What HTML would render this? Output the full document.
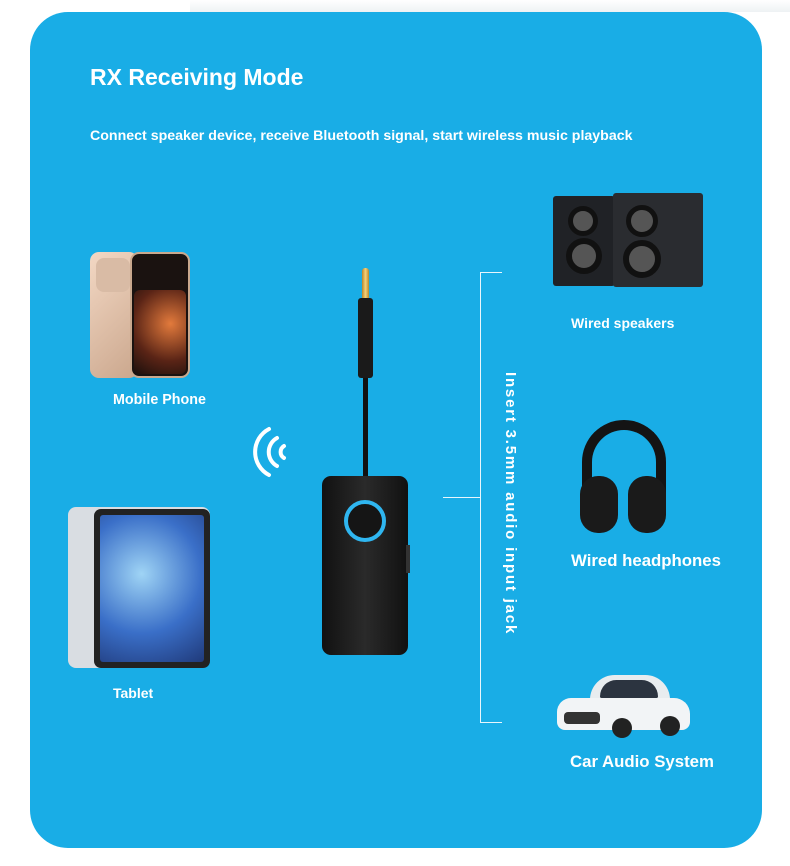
<!DOCTYPE html>
<html><head><meta charset="utf-8"><style>
*{margin:0;padding:0;box-sizing:border-box}
body{width:790px;height:866px;background:#fff;position:relative;overflow:hidden;font-family:"Liberation Sans",sans-serif}
.abs{position:absolute}
.card{left:30px;top:12px;width:732px;height:836px;background:#19ade6;border-radius:38px}
.t{color:#fff;font-weight:bold;white-space:nowrap}
.line{background:#e8f6fc}
</style></head><body>
<div class="abs" style="left:190px;top:0;width:600px;height:12px;background:linear-gradient(#fff,#eef2f4)"></div>
<div class="abs card"></div>
<div class="abs t" style="left:90px;top:64px;font-size:23px">RX Receiving Mode</div>
<div class="abs t" style="left:90px;top:128px;font-size:14.2px">Connect speaker device, receive Bluetooth signal, start wireless music playback</div>

<!-- phone -->
<div class="abs" style="left:90px;top:252px;width:48px;height:126px;background:linear-gradient(135deg,#f3d8c4,#caa68c);border-radius:9px"></div>
<div class="abs" style="left:96px;top:258px;width:34px;height:34px;background:#d9bba5;border-radius:8px"></div>
<div class="abs" style="left:130px;top:252px;width:60px;height:126px;background:#1a1210;border-radius:9px;border:2px solid #c9a88e"></div>
<div class="abs" style="left:134px;top:290px;width:52px;height:84px;background:radial-gradient(circle at 70% 40%,#e27a3c,#5a2416 60%,#1a0f0c);border-radius:6px"></div>
<div class="abs t" style="left:113px;top:392px;font-size:14.3px">Mobile Phone</div>

<!-- tablet -->
<div class="abs" style="left:68px;top:507px;width:142px;height:161px;background:#d9dde2;border-radius:8px"></div>
<div class="abs" style="left:94px;top:509px;width:116px;height:159px;background:#222;border-radius:7px"></div>
<div class="abs" style="left:100px;top:515px;width:104px;height:147px;background:radial-gradient(circle at 40% 40%,#9fd4f5,#3a6fc8 55%,#203a7a);border-radius:3px"></div>
<div class="abs t" style="left:113px;top:685px;font-size:14px">Tablet</div>

<!-- wifi -->
<svg class="abs" style="left:250px;top:420px" width="50" height="64" viewBox="0 0 50 64">
<g fill="none" stroke="#fff" stroke-width="4" stroke-linecap="round">
<path d="M19 9 A26 26 0 0 0 19 55"/>
<path d="M27 18 A16 16 0 0 0 27 46"/>
<path d="M34 26 A7 7 0 0 0 34 38"/>
</g></svg>

<!-- device -->
<div class="abs" style="left:362px;top:268px;width:7px;height:30px;background:linear-gradient(90deg,#b8862c,#f4d27a,#b8862c);border-radius:3px 3px 0 0"></div>
<div class="abs" style="left:358px;top:298px;width:15px;height:80px;background:#1a1a1a;border-radius:3px"></div>
<div class="abs" style="left:363px;top:378px;width:5px;height:100px;background:#111"></div>
<div class="abs" style="left:322px;top:476px;width:86px;height:179px;background:linear-gradient(90deg,#111,#2a2a2a,#111);border-radius:9px"></div>
<div class="abs" style="left:344px;top:500px;width:42px;height:42px;border:4px solid #2fb6f0;border-radius:50%;background:#151515"></div>
<div class="abs" style="left:406px;top:545px;width:4px;height:28px;background:#333"></div>

<!-- lines -->
<div class="abs line" style="left:443px;top:497px;width:38px;height:1px"></div>
<div class="abs line" style="left:480px;top:272px;width:1px;height:451px"></div>
<div class="abs line" style="left:480px;top:272px;width:22px;height:1px"></div>
<div class="abs line" style="left:480px;top:722px;width:22px;height:1px"></div>
<div class="abs t" style="left:510px;top:372px;font-size:15px;letter-spacing:1.8px;transform-origin:0 0;transform:rotate(90deg) translateY(-9px)">Insert 3.5mm audio input jack</div>

<!-- speakers -->
<div class="abs" style="left:553px;top:196px;width:62px;height:90px;background:#202226;border-radius:3px"></div>
<div class="abs" style="left:613px;top:193px;width:90px;height:94px;background:#2a2c30;border-radius:3px"></div>
<div class="abs" style="left:568px;top:206px;width:30px;height:30px;border-radius:50%;background:#555;border:5px solid #111"></div>
<div class="abs" style="left:566px;top:238px;width:36px;height:36px;border-radius:50%;background:#555;border:6px solid #111"></div>
<div class="abs" style="left:626px;top:205px;width:32px;height:32px;border-radius:50%;background:#555;border:5px solid #111"></div>
<div class="abs" style="left:623px;top:240px;width:38px;height:38px;border-radius:50%;background:#555;border:6px solid #111"></div>
<div class="abs t" style="left:571px;top:315px;font-size:14px">Wired speakers</div>

<!-- headphones -->
<div class="abs" style="left:582px;top:420px;width:84px;height:80px;border:10px solid #141414;border-bottom:none;border-radius:42px 42px 0 0"></div>
<div class="abs" style="left:580px;top:476px;width:38px;height:57px;background:#1a1a1a;border-radius:18px"></div>
<div class="abs" style="left:628px;top:476px;width:38px;height:57px;background:#1a1a1a;border-radius:18px"></div>
<div class="abs t" style="left:571px;top:551px;font-size:16.8px">Wired headphones</div>

<!-- car -->
<div class="abs" style="left:590px;top:675px;width:80px;height:28px;background:#e8ecef;border-radius:30px 30px 4px 4px"></div>
<div class="abs" style="left:600px;top:680px;width:58px;height:18px;background:#2c3440;border-radius:20px 20px 2px 2px"></div>
<div class="abs" style="left:557px;top:698px;width:133px;height:32px;background:#f2f4f6;border-radius:14px 16px 8px 8px"></div>
<div class="abs" style="left:564px;top:712px;width:36px;height:12px;background:#333;border-radius:4px"></div>
<div class="abs" style="left:612px;top:718px;width:20px;height:20px;background:#222;border-radius:50%"></div>
<div class="abs" style="left:660px;top:716px;width:20px;height:20px;background:#222;border-radius:50%"></div>
<div class="abs t" style="left:570px;top:752px;font-size:16.8px">Car Audio System</div>
</body></html>
